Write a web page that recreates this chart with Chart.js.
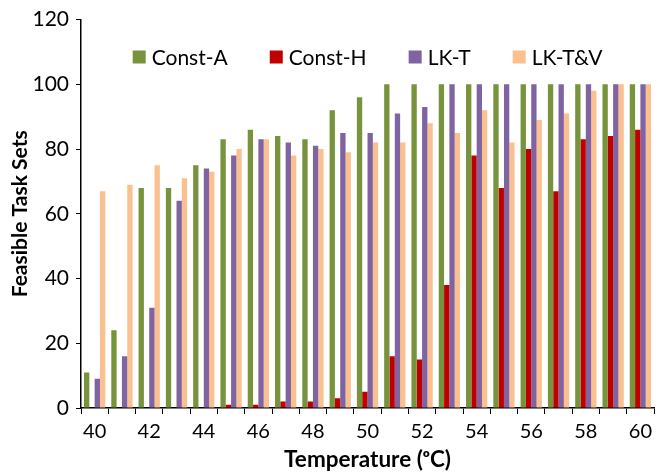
<!DOCTYPE html>
<html>
<head>
<meta charset="utf-8">
<script src="https://cdn.jsdelivr.net/npm/chart.js@4.4.1/dist/chart.umd.min.js"></script>
<style>
  html, body { margin: 0; padding: 0; background: #fff; }
  #wrap { width: 658px; height: 473px; }
</style>
</head>
<body>
<div id="wrap"><canvas id="chart" width="658" height="473"></canvas></div>
<script>
// temperatures 40..60
const temps = ['40', '41', '42', '43', '44', '45', '46', '47', '48', '49', '50',
               '51', '52', '53', '54', '55', '56', '57', '58', '59', '60'];

const constA = [11, 24, 68, 68, 75, 83, 86, 84, 83, 92, 96, 100, 100, 100, 100, 100, 100, 100, 100, 100, 100];
const constH = [0, 0, 0, 0, 0, 1, 1, 2, 2, 3, 5, 16, 15, 38, 78, 68, 80, 67, 83, 84, 86];
const lkT = [9, 16, 31, 64, 74, 78, 83, 82, 81, 85, 85, 91, 93, 100, 100, 100, 100, 100, 100, 100, 100];
const lkTV = [67, 69, 75, 71, 73, 80, 83, 78, 80, 79, 82, 82, 88, 85, 92, 82, 89, 91, 98, 100, 100];

const font = 'Lato, "Open Sans", sans-serif';

// horizontal legend drawn inside the plot, near the top
const insideLegend = {
    id: 'insideLegend',
    afterDraw(chart) {
        const ctx = chart.ctx;
        const area = chart.chartArea;
        const box = 13, gapText = 6, gapItem = 42;
        ctx.save();
        ctx.font = '21px ' + font;
        ctx.textBaseline = 'middle';
        const items = chart.data.datasets.map(ds => ({
            label: ds.label,
            color: ds.backgroundColor,
            w: ctx.measureText(ds.label).width
        }));
        let total = 0;
        items.forEach((it, i) => {
            total += box + gapText + it.w + (i < items.length - 1 ? gapItem : 0);
        });
        let x = (area.left + area.right) / 2 - total / 2;
        const y = 57;
        items.forEach(it => {
            ctx.fillStyle = it.color;
            ctx.fillRect(x, y - box / 2, box, box);
            ctx.fillStyle = '#000';
            ctx.fillText(it.label, x + box + gapText, y + 1);
            x += box + gapText + it.w + gapItem;
        });
        ctx.restore();
    }
};

new Chart(document.getElementById('chart'), {
    type: 'bar',
    data: {
        labels: temps,
        datasets: [
            { label: 'Const-A', data: constA, backgroundColor: '#77933C' },
            { label: 'Const-H', data: constH, backgroundColor: '#C00000' },
            { label: 'LK-T', data: lkT, backgroundColor: '#8064A2' },
            { label: 'LK-T&V', data: lkTV, backgroundColor: '#FAC090' }
        ]
    },
    plugins: [insideLegend],
    options: {
        responsive: false,
        animation: false,
        layout: { padding: { top: 16, right: 0, bottom: 0, left: 0 } },
        datasets: {
            bar: { categoryPercentage: 0.78, barPercentage: 1.0 }
        },
        plugins: {
            tooltip: { enabled: false },
            legend: { display: false }
        },
        scales: {
            x: {
                grid: { display: true, drawOnChartArea: false, drawTicks: true, tickLength: 6, color: '#000' },
                border: { display: true, color: '#000', width: 1.5 },
                ticks: {
                    color: '#000',
                    padding: 6,
                    font: { family: font, size: 20 },
                    maxRotation: 0,
                    autoSkip: false,
                    callback: function(v, i) { return i % 2 === 0 ? this.getLabelForValue(v) : ''; }
                },
                title: {
                    display: true,
                    text: 'Temperature (ᵒC)',
                    color: '#000',
                    font: { family: font, size: 22.5, weight: 'bold' },
                    padding: { top: 0, bottom: 0 }
                },
                afterFit: s => { s.height = 65; }
            },
            y: {
                min: 0,
                max: 120,
                grid: { display: true, drawOnChartArea: false, drawTicks: true, tickLength: 5, color: '#000' },
                border: { display: true, color: '#000', width: 1.5 },
                ticks: {
                    stepSize: 20,
                    padding: 7,
                    color: '#000',
                    font: { family: font, size: 21 }
                },
                title: {
                    display: true,
                    text: 'Feasible Task Sets',
                    color: '#000',
                    font: { family: font, size: 21, weight: 'bold' },
                    padding: { top: 8, bottom: 4 }
                },
                afterFit: s => { s.width = 81; }
            }
        }
    }
});
</script>
</body>
</html>
